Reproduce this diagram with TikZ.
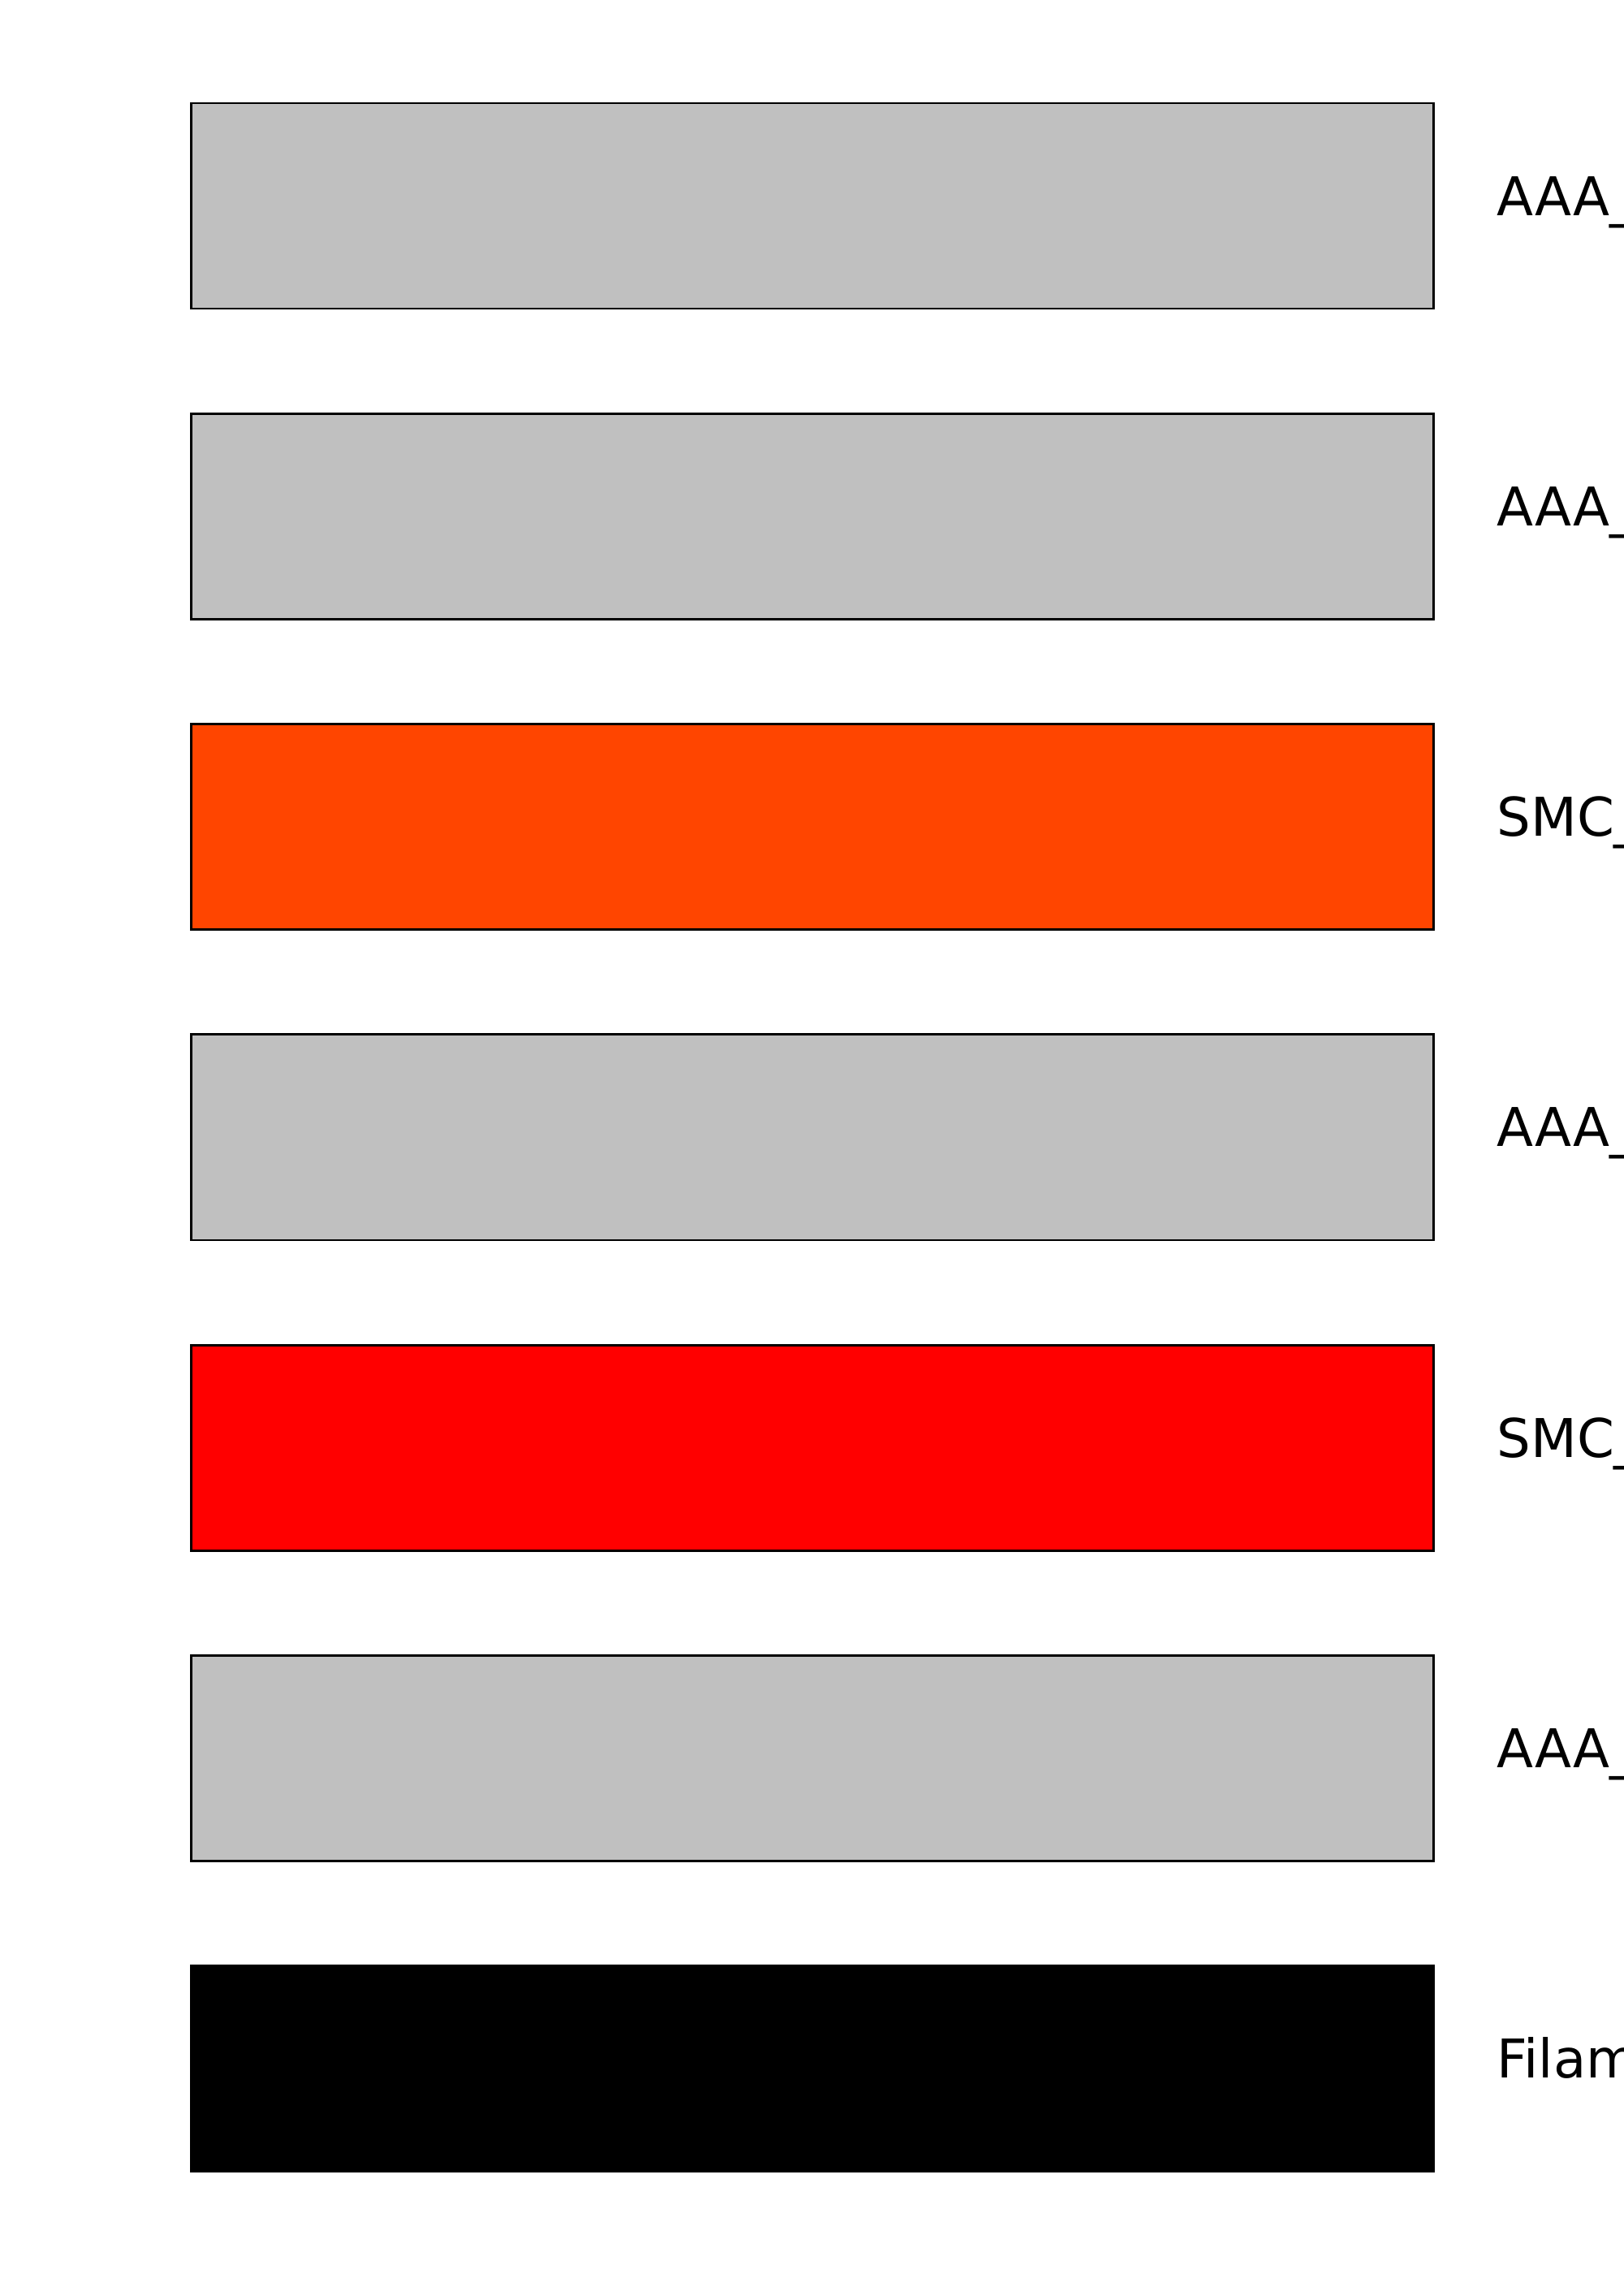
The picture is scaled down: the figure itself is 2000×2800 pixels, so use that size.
\documentclass[tikz,border=0pt]{standalone}
\usepackage{fontspec}
\setmainfont{DejaVu Sans}
\usetikzlibrary{positioning,calc}
\definecolor{gris}{HTML}{C0C0C0}
\definecolor{naranjarojo}{HTML}{FF4500}
\definecolor{rojo}{HTML}{FF0000}
\tikzset{
	capa/.style = {
		draw,
		rectangle,
		minimum width=15.29cm,
		minimum height=2.53cm,
		line width=0.77pt,
		inner sep=0pt
	},
	etiqueta/.style = {
		font=\fontsize{18.7}{22}\selectfont,
		anchor=base west,
		inner sep=0pt
	}
}
\begin{document}
\begin{tikzpicture}[x=0.01cm, y=-0.01cm]
		
		% --- Marco de la imagen ---
		\useasboundingbox (0,0) rectangle (2000,2800);
		
		% --- Definición de CAPAS ---
		\node [capa, fill=gris] (capa1) at (1000.5,253.5) {};
		\node [capa, fill=gris] (capa2) at (1000.5,635.8) {};
		\node [capa, fill=naranjarojo] (capa3) at (1000.5,1018.1) {};
		\node [capa, fill=gris] (capa4) at (1000.5,1400.4) {};
		\node [capa, fill=rojo] (capa5) at (1000.5,1782.7) {};
		\node [capa, fill=gris] (capa6) at (1000.5,2165.0) {};
		% La última capa es negra
		\node [capa, fill=black] (capa7) at (1000.5,2547.3) {};
		
		% --- ETIQUETAS ---
		% A la derecha de cada capa (el texto sale del marco)
		\node [etiqueta] (et1) at ([xshift=0.76cm, yshift=-0.115cm]capa1.east) {AAA\_};
		\node [etiqueta] (et2) at ([xshift=0.76cm, yshift=-0.115cm]capa2.east) {AAA\_};
		\node [etiqueta] (et3) at ([xshift=0.76cm, yshift=-0.115cm]capa3.east) {SMC\_};
		\node [etiqueta] (et4) at ([xshift=0.76cm, yshift=-0.115cm]capa4.east) {AAA\_};
		\node [etiqueta] (et5) at ([xshift=0.76cm, yshift=-0.115cm]capa5.east) {SMC\_};
		\node [etiqueta] (et6) at ([xshift=0.76cm, yshift=-0.115cm]capa6.east) {AAA\_};
		\node [etiqueta] (et7) at ([xshift=0.76cm, yshift=-0.115cm]capa7.east) {Filam};
		
	\end{tikzpicture}
\end{document}
